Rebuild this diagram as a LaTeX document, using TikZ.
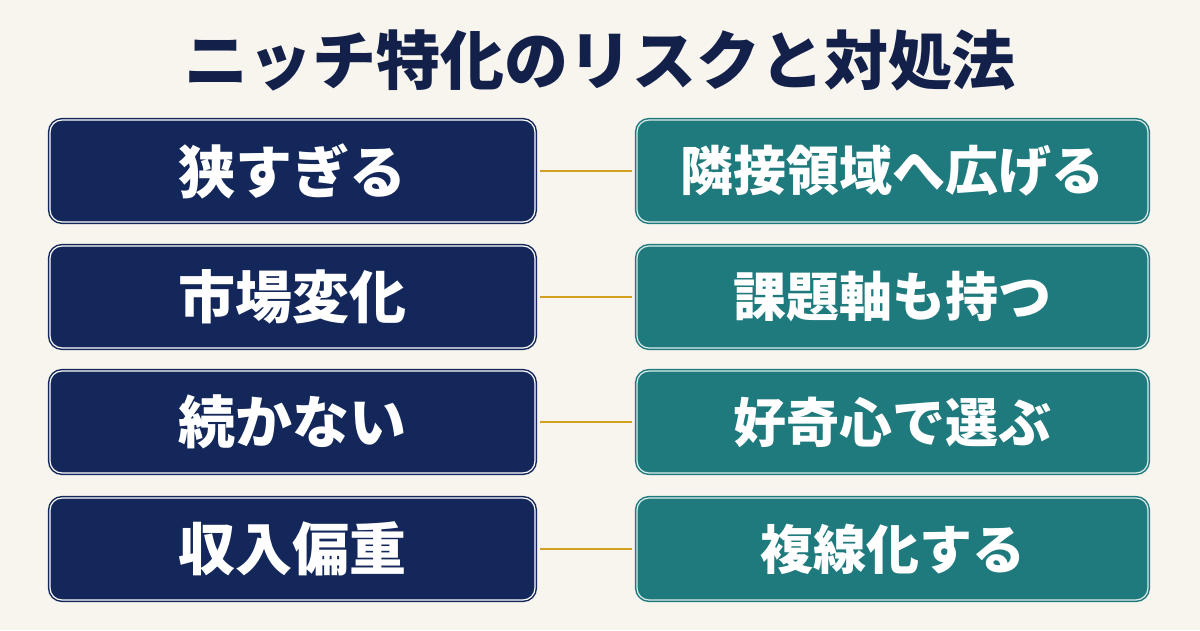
\documentclass[tikz,border=0pt]{standalone}
\usepackage{fontspec}
\newfontfamily\cjk{Noto Sans CJK JP}[BoldFont={* Black}]
\definecolor{bg}{HTML}{F8F5EE}
\definecolor{navy}{HTML}{14275A}
\definecolor{titlec}{HTML}{13214A}
\definecolor{teal}{HTML}{1F7A7D}
\definecolor{gold}{HTML}{D4A020}
\begin{document}
\begin{tikzpicture}[x=1pt,y=1pt,
  lbox/.style={draw=navy,line width=1.5pt,fill=navy,rounded corners=12pt,minimum width=485pt,minimum height=102pt,
    double=white,double distance=1.2pt,font=\cjk\bfseries\fontsize{57}{57}\selectfont,text=white},
  rbox/.style={draw=teal,line width=1.5pt,fill=teal,rounded corners=12pt,minimum width=511pt,minimum height=102pt,
    double=white!85!teal,double distance=1.2pt,font=\cjk\bfseries\fontsize{53}{53}\selectfont,text=white},
  conn/.style={draw=gold,line width=1.5pt}]
\fill[bg] (0,0) rectangle (1200,630);
\useasboundingbox (0,0) rectangle (1200,630);
\node[font=\cjk\bfseries\fontsize{64}{64}\selectfont,text=titlec] (t) at (600,570) {ニッチ特化のリスクと対処法};
\foreach \i/\y/\a/\b in {1/459/狭すぎる/隣接領域へ広げる,2/333/市場変化/課題軸も持つ,3/208/続かない/好奇心で選ぶ,4/81/収入偏重/複線化する}{
  \node[lbox] (l\i) at (292.5,\y) {\a};
  \node[rbox] (r\i) at (892.5,\y) {\b};
  \draw[conn] (l\i.east) ++(4,0) coordinate (s\i);
  \draw[conn] (s\i) -- ([xshift=-4pt]r\i.west);
}
\end{tikzpicture}
\end{document}
